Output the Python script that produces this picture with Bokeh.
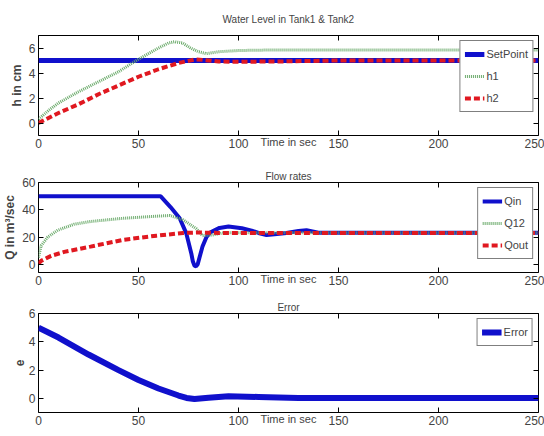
from bokeh.plotting import figure
from bokeh.layouts import column
from bokeh.models import (Range1d, FixedTicker, LinearAxis, Legend, LegendItem)
from bokeh.embed import file_html
from bokeh.resources import INLINE

# ---------------- data ----------------
x_ticks = [0, 50, 100, 150, 200, 250]

# Panel 1: water levels
t_sp = [0, 250]
setpoint = [5, 5]
t_h1 = [0, 5, 10, 20, 30, 40, 50, 60, 65, 68, 72, 76, 80, 84, 90, 100, 120, 150, 200, 250]
h1 = [0.3, 1.0, 1.6, 2.5, 3.3, 4.1, 5.1, 6.0, 6.4, 6.5, 6.4, 6.0, 5.7, 5.55, 5.7, 5.8, 5.85, 5.85, 5.85, 5.85]
t_h2 = [0, 5, 10, 20, 30, 40, 50, 60, 70, 75, 78, 82, 90, 100, 120, 150, 250]
h2 = [0, 0.4, 0.8, 1.5, 2.3, 3.0, 3.7, 4.3, 4.8, 4.97, 5.08, 5.05, 4.92, 4.9, 4.92, 5.0, 5.0]

# Panel 2: flow rates
t_qin = [0, 61, 66, 70.6, 73.9, 76.4, 77.2, 78, 78.8, 79.6, 80.5, 82, 84, 86, 90.5, 95,
         101.7, 106.6, 110, 114, 118, 124, 130, 134, 140, 250]
qin = [50, 50, 42, 33.8, 22.7, 8, 2, -1, -1.5, 0, 5, 13, 20, 23.5, 26.7, 27.7,
       26.4, 24.7, 23, 21.5, 22, 23, 24.5, 25, 23.2, 23.2]
t_q12 = [0, 1.3, 4.6, 9.6, 17.8, 26, 42.6, 59, 65.7, 72.3, 76, 79, 82, 87, 92, 100, 250]
q12 = [5, 13.6, 20, 25, 29.4, 31.4, 33.8, 35.3, 35.8, 32.6, 29, 26, 21, 21.5, 23, 23.2, 23.2]
t_qout = [0, 1.3, 6.3, 12.9, 26, 42.6, 59, 72.3, 80, 90, 250]
qout = [0.5, 2.5, 6.2, 9.1, 13, 18, 21, 23, 23.3, 23, 23]

# Panel 3: error
t_e = [0, 10, 25, 40, 50, 60, 70, 74, 78, 85, 95, 110, 130, 250]
err = [5.0, 4.3, 3.1, 2.0, 1.3, 0.7, 0.2, 0.03, -0.05, 0.05, 0.15, 0.1, 0.02, 0.02]

# ---------------- style ----------------
FONT = "Liberation Sans"
BLUE = "#1010cc"
GREEN = "#6aaa6a"
RED = "#e01820"


def make_fig(height, top, bottom, ylim, yticks, title, ylabel, title_standoff):
    p = figure(width=544, height=height, output_backend="svg", toolbar_location=None,
               x_range=Range1d(0, 250), y_range=Range1d(*ylim),
               min_border_left=34, min_border_right=6,
               min_border_top=top, min_border_bottom=bottom)
    p.title.text = title
    p.title.align = "center"
    p.title.text_font = FONT
    p.title.text_font_size = "10px"
    p.title.text_font_style = "normal"
    p.title.standoff = title_standoff
    p.outline_line_color = "black"
    p.outline_line_alpha = 1.0
    p.xgrid.visible = False
    p.ygrid.visible = False
    for ax in (p.xaxis[0], p.yaxis[0]):
        ax.axis_line_color = None
        ax.major_tick_in = 5
        ax.major_tick_out = 0
        ax.minor_tick_line_color = None
        ax.major_label_text_font = FONT
        ax.major_label_text_font_size = "12px"
        ax.major_label_standoff = 3
    p.xaxis[0].ticker = FixedTicker(ticks=x_ticks)
    p.xaxis[0].axis_label = "Time in sec"
    p.xaxis[0].axis_label_text_font = FONT
    p.xaxis[0].axis_label_text_font_size = "11px"
    p.xaxis[0].axis_label_text_font_style = "normal"
    p.xaxis[0].axis_label_standoff = -15
    p.yaxis[0].ticker = FixedTicker(ticks=yticks)
    p.yaxis[0].axis_label = ylabel
    p.yaxis[0].axis_label_text_font = FONT
    p.yaxis[0].axis_label_text_font_size = "12px"
    p.yaxis[0].axis_label_text_font_style = "bold"
    p.yaxis[0].axis_label_standoff = 2
    # mirrored tick marks (box on), no labels
    ra = LinearAxis(ticker=FixedTicker(ticks=yticks), axis_line_color=None,
                    major_tick_in=5, major_tick_out=0, minor_tick_line_color=None,
                    major_label_text_font_size="1px", major_label_text_color=None,
                    major_label_standoff=0)
    ta = LinearAxis(ticker=FixedTicker(ticks=x_ticks), axis_line_color=None,
                    major_tick_in=5, major_tick_out=0, minor_tick_line_color=None,
                    major_label_text_font_size="1px", major_label_text_color=None,
                    major_label_standoff=0)
    p.add_layout(ra, "right")
    p.add_layout(ta, "above")
    return p


def add_legend(p, items):
    lg = Legend(items=items, location="top_right", border_line_color="black", border_line_width=1,
                background_fill_color="white", background_fill_alpha=1.0,
                label_text_font=FONT, label_text_font_size="11px",
                glyph_width=20, glyph_height=18, label_height=18, label_standoff=2,
                spacing=4, padding=4, margin=5)
    p.add_layout(lg, "center")


# Panel 1
p1 = make_fig(152, 34, 17, (-1, 7), [0, 2, 4, 6], "Water Level in Tank1 & Tank2", "h in cm", 22)
r_sp = p1.line(t_sp, setpoint, line_color=BLUE, line_width=5)
r_h1 = p1.line(t_h1, h1, line_color=GREEN, line_width=3, line_dash="1 1")
r_h2 = p1.line(t_h2, h2, line_color=RED, line_width=4, line_dash="6 3")
add_legend(p1, [LegendItem(label="SetPoint", renderers=[r_sp]),
                LegendItem(label="h1", renderers=[r_h1]),
                LegendItem(label="h2", renderers=[r_h2])])

# Panel 2
p2 = make_fig(140, 30, 20, (-6, 60), [0, 20, 40, 60], "Flow rates", "Q in m³/sec", 2)
r_qin = p2.line(t_qin, qin, line_color=BLUE, line_width=4)
r_q12 = p2.line(t_q12, q12, line_color=GREEN, line_width=3, line_dash="1 1")
r_qout = p2.line(t_qout, qout, line_color=RED, line_width=4, line_dash="6 3")
add_legend(p2, [LegendItem(label="Qin", renderers=[r_qin]),
                LegendItem(label="Q12", renderers=[r_q12]),
                LegendItem(label="Qout", renderers=[r_qout])])

# Panel 3
p3 = make_fig(144, 21, 24, (-1, 6), [0, 2, 4, 6], "Error", "e", 2)
r_e = p3.line(t_e, err, line_color=BLUE, line_width=6)
add_legend(p3, [LegendItem(label="Error", renderers=[r_e])])

layout = column(p1, p2, p3, spacing=0)
open("out.html", "w").write(file_html(layout, INLINE))
